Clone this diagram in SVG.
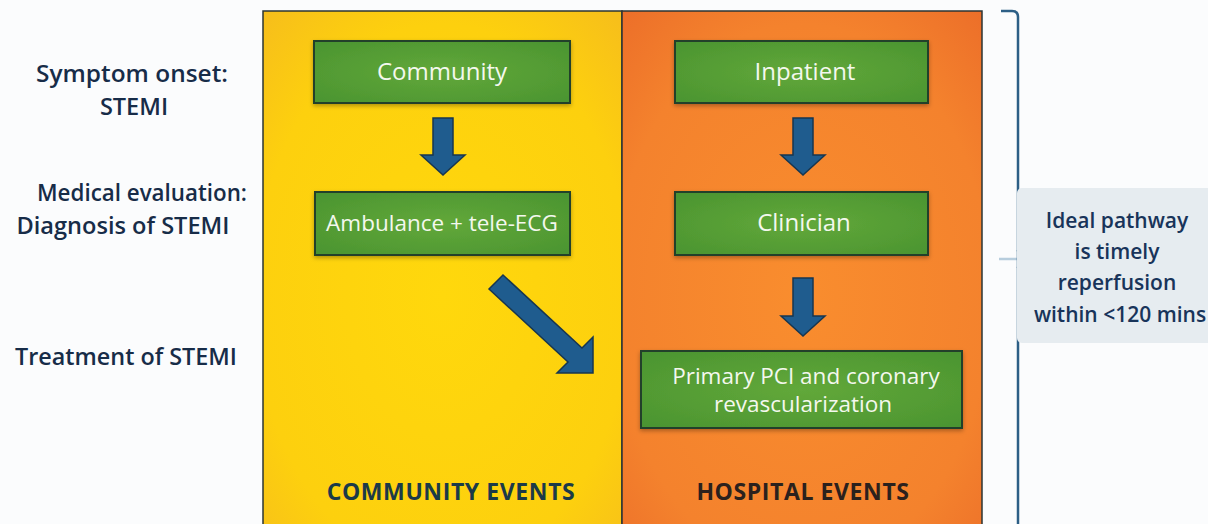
<svg xmlns="http://www.w3.org/2000/svg" width="1208" height="524" viewBox="0 0 1208 524">
  <defs>
    <radialGradient id="gYellow" cx="0.5" cy="0.55" r="0.75">
      <stop offset="0" stop-color="#ffd80c"/>
      <stop offset="0.7" stop-color="#fdd00e"/>
      <stop offset="1" stop-color="#f6bd1c"/>
    </radialGradient>
    <radialGradient id="gOrange" cx="0.5" cy="0.55" r="0.75">
      <stop offset="0" stop-color="#f98d2e"/>
      <stop offset="0.7" stop-color="#f4822d"/>
      <stop offset="1" stop-color="#ec6e29"/>
    </radialGradient>
    <radialGradient id="gGreen" cx="0.5" cy="0.5" r="0.7">
      <stop offset="0" stop-color="#62a83a"/>
      <stop offset="1" stop-color="#4a9430"/>
    </radialGradient>
    <filter id="shadow" x="-10%" y="-20%" width="120%" height="150%">
      <feDropShadow dx="0" dy="2" stdDeviation="2" flood-color="#000" flood-opacity="0.3"/>
    </filter>
  </defs>
  <style>
    .panel { stroke: #2b3534; stroke-width: 1.5; }
    .box { fill: url(#gGreen); stroke: #23402a; stroke-width: 2; filter: url(#shadow); }
    .boxText { font-family: "Open Sans", "Noto Sans", sans-serif; font-size: 24px; fill: #f4f8ee; text-anchor: middle; }
    .side { font-family: "Open Sans", "Noto Sans", sans-serif; font-weight: 600; font-size: 23.5px; fill: #172c48; text-anchor: middle; }
    .foot { font-family: "Open Sans", "Noto Sans", sans-serif; font-weight: 700; font-size: 23px; letter-spacing: 0.6px; text-anchor: middle; }
    .arrow { fill: #1f5c8e; stroke: #173650; stroke-width: 1.5; stroke-linejoin: miter; }
    .note { font-family: "Open Sans", "Noto Sans", sans-serif; font-weight: 600; font-size: 21px; fill: #18345a; text-anchor: middle; }
  </style>

  <rect width="1208" height="524" fill="#fbfcfd"/>

  <!-- stage labels on the left -->
  <g id="label-onset">
    <text class="side" x="132" y="82" textLength="192" lengthAdjust="spacingAndGlyphs">Symptom onset:</text>
    <text class="side" x="134" y="115">STEMI</text>
  </g>
  <g id="label-evaluation">
    <text class="side" x="142" y="201" textLength="210" lengthAdjust="spacingAndGlyphs">Medical evaluation:</text>
    <text class="side" x="123" y="234" textLength="213" lengthAdjust="spacingAndGlyphs">Diagnosis of STEMI</text>
  </g>
  <g id="label-treatment">
    <text class="side" x="126" y="365" textLength="222" lengthAdjust="spacingAndGlyphs">Treatment of STEMI</text>
  </g>

  <!-- two event columns -->
  <g id="community-panel">
    <rect class="panel" x="263" y="11" width="359" height="520" fill="url(#gYellow)"/>
    <text class="foot" x="451" y="500" fill="#1b3a48">COMMUNITY EVENTS</text>
  </g>
  <g id="hospital-panel">
    <rect class="panel" x="622" y="11" width="360" height="520" fill="url(#gOrange)"/>
    <text class="foot" x="803" y="500" fill="#2b211d">HOSPITAL EVENTS</text>
  </g>

  <!-- green step boxes -->
  <g id="community">
    <rect class="box" x="314" y="41" width="256" height="62"/>
    <text class="boxText" x="442" y="80">Community</text>
  </g>
  <g id="ambulance">
    <rect class="box" x="315" y="192" width="255" height="63"/>
    <text class="boxText" x="442" y="231" style="font-size:22.5px">Ambulance + tele-ECG</text>
  </g>
  <g id="inpatient">
    <rect class="box" x="675" y="41" width="253" height="62"/>
    <text class="boxText" x="805" y="80">Inpatient</text>
  </g>
  <g id="clinician">
    <rect class="box" x="675" y="192" width="253" height="63"/>
    <text class="boxText" x="804" y="231">Clinician</text>
  </g>
  <g id="pci">
    <rect class="box" x="641" y="351" width="321" height="77"/>
    <text class="boxText" x="806" y="384" style="font-size:22.5px">Primary PCI and coronary</text>
    <text class="boxText" x="803" y="412" style="font-size:22.5px">revascularization</text>
  </g>

  <!-- block arrows between steps -->
  <g id="connectors">
    <polygon class="arrow" points="433,118 453,118 453,155 465,155 443,175 421,155 433,155"/>
    <polygon class="arrow" points="793,118 813,118 813,155 825,155 803,175 781,155 793,155"/>
    <polygon class="arrow" points="793,278 813,278 813,316 825,316 803,336 781,316 793,316"/>
    <polygon class="arrow" points="489,289 503,275 582,348 593,337 593,373 557,373 568,362"/>
  </g>

  <!-- bracket spanning the pathway -->
  <g id="bracket">
    <path d="M999,259 H1018" stroke="#b7cddd" stroke-width="2.5" fill="none"/>
    <path d="M1001,11 H1012 Q1018,11 1018,17 V524" stroke="#2d5f86" stroke-width="2.5" fill="none"/>
    <path d="M1018,250 Q1018,259 1032,259 Q1018,259 1018,268" stroke="#2d5f86" stroke-width="2.5" fill="none"/>
  </g>

  <!-- target note -->
  <g id="note">
    <rect x="1017" y="188" width="200" height="155" rx="5" fill="#e6ecf0"/>
    <text class="note" x="1117" y="228">Ideal pathway</text>
    <text class="note" x="1117" y="259">is timely</text>
    <text class="note" x="1117" y="290">reperfusion</text>
    <text class="note" x="1120" y="322">within &lt;120 mins</text>
  </g>
</svg>
